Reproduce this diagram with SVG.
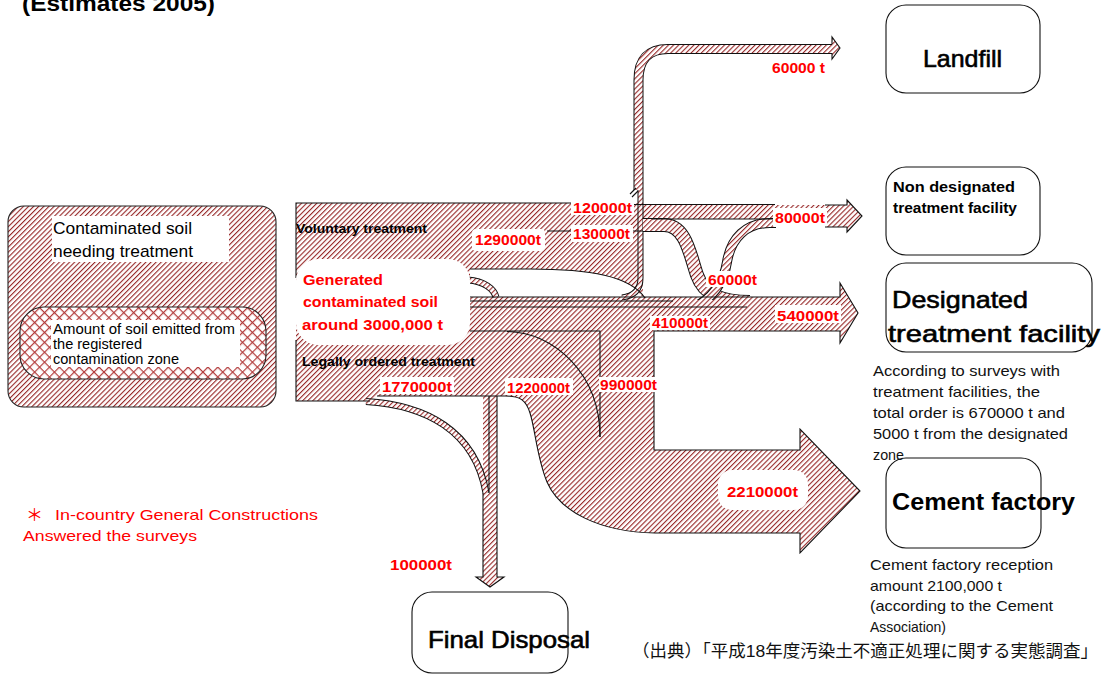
<svg xmlns="http://www.w3.org/2000/svg" width="1105" height="675" viewBox="0 0 1105 675">
<defs>
<pattern id="hatch" patternUnits="userSpaceOnUse" width="3.6" height="3.6" patternTransform="rotate(45)">
<rect width="3.6" height="3.6" fill="#fff"/>
<rect width="1.1" height="3.6" fill="#962626"/>
</pattern>
<pattern id="cross" patternUnits="userSpaceOnUse" width="7" height="7" patternTransform="rotate(45)">
<rect width="7" height="7" fill="#fff"/>
<rect width="1.2" height="7" fill="#b23b3b"/>
<rect width="7" height="1.2" fill="#b23b3b"/>
</pattern>
<style>
.hf{fill:url(#hatch);stroke:none}
.ol{fill:none;stroke:#111;stroke-width:1.1}
.bo{fill:none;stroke:#111}
.bh{fill:none;stroke:url(#hatch)}
.lbl{font-family:"Liberation Sans",Arial,sans-serif;font-weight:bold;fill:#f00;font-size:15px}
.wb{fill:#fff}
.node{fill:#fff;stroke:#111;stroke-width:1.1}
.t{font-family:"Liberation Sans",Arial,sans-serif;fill:#000}
.big{font-size:24px;stroke:#000;stroke-width:0.6}
.note{font-family:"Liberation Sans",Arial,sans-serif;fill:#111;font-size:15px}
.red{font-family:"Liberation Sans","Noto Sans CJK JP",sans-serif;fill:#f00;font-size:15px}
</style>
</defs>
<rect width="1105" height="675" fill="#fff"/>
<text class="t" x="22" y="11" font-size="22" font-weight="bold" textLength="193" lengthAdjust="spacingAndGlyphs">(Estimates 2005)</text>

<g id="contaminated-soil">
<rect x="8" y="206" width="268" height="201" rx="16" fill="url(#hatch)" stroke="#222" stroke-width="1.1"/>
<rect x="52" y="216" width="177" height="46" fill="#fff"/>
<text class="t" x="53" y="234" font-size="17" textLength="139" lengthAdjust="spacingAndGlyphs">Contaminated soil</text>
<text class="t" x="53" y="257" font-size="17" textLength="140" lengthAdjust="spacingAndGlyphs">needing treatment</text>
<rect x="20" y="307" width="246" height="72" rx="24" fill="url(#cross)" stroke="#222" stroke-width="1.1"/>
<rect x="51" y="320" width="189" height="47" fill="#fff"/>
<text class="t" x="53" y="334" font-size="14" textLength="182" lengthAdjust="spacingAndGlyphs">Amount of soil emitted from</text>
<text class="t" x="53" y="349" font-size="14" textLength="89" lengthAdjust="spacingAndGlyphs">the registered</text>
<text class="t" x="53" y="364" font-size="14" textLength="126" lengthAdjust="spacingAndGlyphs">contamination zone</text>
</g>

<g id="connectors">
<path class="hf" d="M296,203 H643 V298 C630,276 590,269 530,269 H470 V331 H654 V450 H800 V533 H655 C600,532 560,512 547,482 C537,458 535,428 530,413 C526,400 520,396 505,396 H377 L370,401 H296 Z"/>
<path class="hf" d="M470,297 H840 V283 L858,313 L840,343 V331 H470 Z"/>
<path class="hf" d="M800,429 L860,491 L800,553 Z"/>
<path class="hf" d="M483,396 H497 V577 H504 L490,587 L476,577 H483 Z"/>
<path class="hf" d="M643,205 H847 V200 L862,216 L847,232 V227 H825 V219 H643 Z"/>
<path class="hf" d="M832,37 L840,48 L832,59 Z"/>

<path class="bo" stroke-width="7" d="M366,401.5 C425,405 475,430 486,493"/>
<path class="bh" stroke-width="5" d="M366,401.5 C425,405 475,430 486,493"/>
<path class="bo" stroke-width="7" d="M468,280 C484,281 494,289 496,297"/>
<path class="bh" stroke-width="5" d="M468,280 C484,281 494,289 496,297"/>
<path class="bo" stroke-width="6" d="M640.5,190 V278 C640.5,290 634,296 622,297.5"/>
<path class="bh" stroke-width="4" d="M640.5,190 V278 C640.5,290 634,296 622,297.5"/>
<path class="bo" stroke-width="10" d="M638.5,190 V80 Q638.5,49 668,49 H832"/>
<path class="bh" stroke-width="8" d="M638.5,190 V80 Q638.5,49 668,49 H832"/>
<path class="ol" d="M832,44 V37 L840,48 L832,59 V53"/>
<path class="ol" d="M630,194 L636,188 M632,197 L638,191"/>
<path class="bo" stroke-width="14" d="M643,225 H664 C686,225 690,255 697,275 C704,295 722,302 750,302"/>
<path class="bh" stroke-width="12" d="M643,225 H664 C686,225 690,255 697,275 C704,295 722,302 750,302"/>
<path class="bo" stroke-width="10" d="M692,308 C712,300 724,282 727,262 C731,238 746,223 770,223 H776"/>
<path class="bh" stroke-width="8" d="M692,308 C712,300 724,282 727,262 C731,238 746,223 770,223 H776"/>
<path class="hf" d="M470,300 H760 V331 H470 Z"/>

<path class="ol" d="M296,278 V203 H572"/>
<path class="ol" d="M632,204.5 H775"/>
<path class="ol" d="M825,205 H847 V200 L862,216 L847,232 V227 H825"/>
<path class="ol" d="M652,219 H775"/>
<path class="ol" d="M547,231 H643"/>
<path class="ol" d="M296,340 V401 H370"/>
<path class="ol" d="M377,396 H505 C520,396 526,400 530,413 C535,428 537,458 547,482 C560,512 600,532 655,533 H800 V553 L860,491 L800,429 V450 H654 V331 H840 V343 L858,313 L840,283 V297 H470"/>
<path class="ol" d="M470,331 H600 V437"/>
<path class="ol" d="M507,331.5 C555,332 600,375 600,437"/>
<path class="ol" d="M470,301 H673"/>
<path class="ol" d="M470,307 H747"/>
<path class="ol" d="M470,269 H530 C590,269 630,276 645,298"/>
<path class="ol" d="M497,396 V577 H504 L490,587 L476,577 H483 V493"/>
<path class="ol" d="M489,396 V493"/>

<rect class="wb" x="571" y="198" width="63" height="17"/>
<text class="lbl" x="573" y="213" textLength="59" lengthAdjust="spacingAndGlyphs">120000t</text>
<rect class="wb" x="571" y="225" width="62" height="17"/>
<text class="lbl" x="573" y="239" textLength="57" lengthAdjust="spacingAndGlyphs">130000t</text>
<rect class="wb" x="472" y="229" width="73" height="22" rx="4"/>
<text class="lbl" x="475" y="245" textLength="66" lengthAdjust="spacingAndGlyphs">1290000t</text>
<rect class="wb" x="380" y="377" width="74" height="17"/>
<text class="lbl" x="382" y="392" textLength="70" lengthAdjust="spacingAndGlyphs">1770000t</text>
<rect class="wb" x="505" y="378" width="68" height="17"/>
<text class="lbl" x="507" y="393" textLength="63" lengthAdjust="spacingAndGlyphs">1220000t</text>
<rect class="wb" x="599" y="377" width="60" height="15"/>
<text class="lbl" x="600" y="390" textLength="57" lengthAdjust="spacingAndGlyphs">990000t</text>
<rect class="wb" x="650" y="316" width="60" height="14"/>
<text class="lbl" x="652" y="328" textLength="56" lengthAdjust="spacingAndGlyphs">410000t</text>
<rect class="wb" x="775" y="305" width="66" height="18"/>
<text class="lbl" x="777" y="321" textLength="62" lengthAdjust="spacingAndGlyphs">540000t</text>
<rect class="wb" x="706" y="271" width="53" height="16"/>
<text class="lbl" x="708" y="285" textLength="49" lengthAdjust="spacingAndGlyphs">60000t</text>
<rect class="wb" x="773" y="208" width="54" height="18"/>
<text class="lbl" x="775" y="223" textLength="50" lengthAdjust="spacingAndGlyphs">80000t</text>
<text class="lbl" x="772" y="73" textLength="53" lengthAdjust="spacingAndGlyphs">60000 t</text>
<rect class="wb" x="718" y="470" width="90" height="40" rx="14"/>
<text class="lbl" x="727" y="497" textLength="71" lengthAdjust="spacingAndGlyphs">2210000t</text>
<text class="lbl" x="390" y="570" textLength="62" lengthAdjust="spacingAndGlyphs">100000t</text>
<text class="t" x="296" y="233" font-size="13" font-weight="bold" textLength="131" lengthAdjust="spacingAndGlyphs">Voluntary treatment</text>
<text class="t" x="302" y="366" font-size="13" font-weight="bold" textLength="173" lengthAdjust="spacingAndGlyphs">Legally ordered  treatment</text>
</g>

<g id="generated-soil">
<rect x="296" y="259" width="174" height="86" rx="22" fill="#fff"/>
<text class="lbl" x="303" y="285" font-size="16" textLength="80" lengthAdjust="spacingAndGlyphs">Generated</text>
<text class="lbl" x="303" y="307" font-size="16" textLength="135" lengthAdjust="spacingAndGlyphs">contaminated soil</text>
<text class="lbl" x="302" y="330" font-size="16" textLength="141" lengthAdjust="spacingAndGlyphs">around 3000,000 t</text>
</g>

<g id="landfill">
<rect class="node" x="886" y="5" width="154" height="88" rx="20"/>
<text class="t big" x="923" y="67" textLength="79" lengthAdjust="spacingAndGlyphs">Landfill</text>
</g>
<g id="non-designated">
<rect class="node" x="886" y="167" width="154" height="88" rx="20"/>
<text class="t" x="893" y="192" font-size="15" font-weight="bold" textLength="122" lengthAdjust="spacingAndGlyphs">Non designated</text>
<text class="t" x="893" y="213" font-size="15" font-weight="bold" textLength="124" lengthAdjust="spacingAndGlyphs">treatment facility</text>
</g>
<g id="designated">
<rect class="node" x="886" y="263" width="206" height="89" rx="20"/>
<text class="t big" x="892" y="308" font-size="25" textLength="136" lengthAdjust="spacingAndGlyphs">Designated</text>
<text class="t big" x="888" y="342" font-size="25" textLength="212" lengthAdjust="spacingAndGlyphs">treatment facility</text>
</g>
<g id="cement">
<rect class="node" x="886" y="458" width="155" height="90" rx="20"/>
<text class="t" x="892" y="510" font-size="24" font-weight="bold" textLength="183" lengthAdjust="spacingAndGlyphs">Cement factory</text>
</g>
<g id="designated-note">
<text class="note" x="873" y="376" textLength="187" lengthAdjust="spacingAndGlyphs">According to surveys with</text>
<text class="note" x="873" y="397" textLength="167" lengthAdjust="spacingAndGlyphs">treatment facilities, the</text>
<text class="note" x="873" y="418" textLength="192" lengthAdjust="spacingAndGlyphs">total order is 670000 t and</text>
<text class="note" x="873" y="439" textLength="195" lengthAdjust="spacingAndGlyphs">5000 t from the designated</text>
<text class="note" x="873" y="460" textLength="31" lengthAdjust="spacingAndGlyphs">zone</text>
</g>
<g id="cement-note">
<text class="note" x="870" y="570" textLength="183" lengthAdjust="spacingAndGlyphs">Cement factory reception</text>
<text class="note" x="870" y="591" textLength="132" lengthAdjust="spacingAndGlyphs">amount 2100,000 t</text>
<text class="note" x="870" y="611" textLength="183" lengthAdjust="spacingAndGlyphs">(according to the Cement</text>
<text class="note" x="870" y="632" textLength="76" lengthAdjust="spacingAndGlyphs">Association)</text>
</g>
<g id="final-disposal">
<rect class="node" x="412" y="592" width="156" height="81" rx="20"/>
<text class="t big" x="428" y="648" font-size="23" textLength="162" lengthAdjust="spacingAndGlyphs">Final Disposal</text>
</g>
<g id="survey-note">
<text class="red"><tspan x="26" y="521" font-size="17">＊</tspan><tspan x="55" y="520" textLength="263" lengthAdjust="spacingAndGlyphs">In-country General Constructions</tspan></text>
<text class="red" x="23" y="541" textLength="174" lengthAdjust="spacingAndGlyphs">Answered the surveys</text>
</g>
<text x="632" y="657" font-family="'Liberation Sans','Noto Sans CJK JP',sans-serif" font-size="17" fill="#111" textLength="466" lengthAdjust="spacingAndGlyphs">（出典）「平成18年度汚染土不適正処理に関する実態調査」</text>
</svg>
